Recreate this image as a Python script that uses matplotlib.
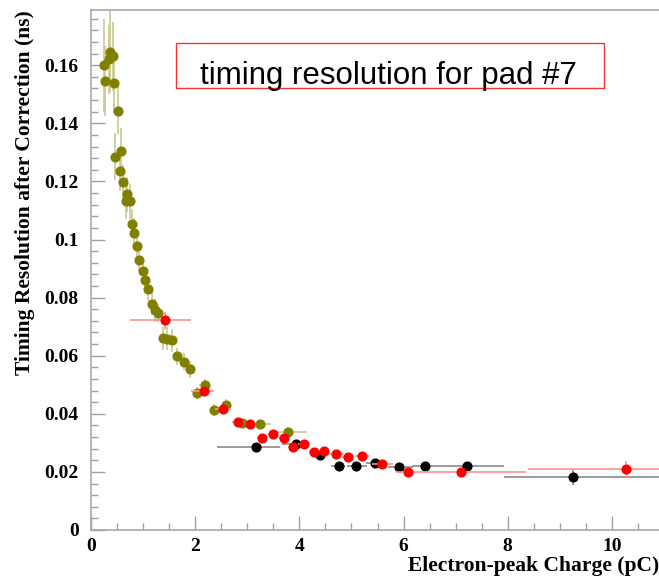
import matplotlib
matplotlib.use("Agg")
import matplotlib.pyplot as plt
from matplotlib.ticker import MultipleLocator
from matplotlib.patches import Rectangle

# Olive series (high-statistics scan)
olive_x = [0.24, 0.27, 0.35, 0.36, 0.42, 0.44, 0.51, 0.47, 0.58, 0.55, 0.62, 0.70, 0.67, 0.75,
           0.78, 0.83, 0.88, 0.93, 0.99, 1.03, 1.10, 1.17, 1.22, 1.29, 1.38, 1.45, 1.55, 1.66,
           1.78, 1.90, 2.03, 2.18, 2.37, 2.60, 2.90, 3.25, 3.78]
olive_y = [0.160, 0.1545, 0.162, 0.1647, 0.163, 0.1538, 0.1444, 0.1285, 0.1303, 0.1237, 0.1198,
           0.1155, 0.1132, 0.1132, 0.1055, 0.1022, 0.0977, 0.0931, 0.0891, 0.0860, 0.0828, 0.0779,
           0.0756, 0.0747, 0.0660, 0.0658, 0.0653, 0.0598, 0.0580, 0.0553, 0.0471, 0.0500, 0.0414,
           0.0431, 0.0368, 0.0364, 0.0338]
olive_yerr = [0.016, 0.012, 0.012, 0.014, 0.012, 0.010, 0.008, 0.008, 0.008, 0.007, 0.006,
              0.006, 0.006, 0.006, 0.005, 0.005, 0.005, 0.004, 0.004, 0.004, 0.004, 0.004,
              0.004, 0.003, 0.004, 0.004, 0.004, 0.003, 0.003, 0.003, 0.002, 0.002, 0.002,
              0.002, 0.0015, 0.0015, 0.0015]
olive_xerr = [0, 0, 0, 0, 0, 0, 0, 0, 0, 0, 0, 0, 0, 0, 0, 0, 0, 0, 0, 0, 0, 0, 0, 0, 0, 0, 0, 0,
              0, 0, 0, 0.1, 0, 0.08, 0, 0.2, 0.36]

# Red series
red_x = [1.42, 2.16, 2.54, 2.82, 3.06, 3.28, 3.49, 3.70, 3.88, 4.08, 4.28, 4.47, 4.71, 4.93,
         5.21, 5.59, 6.08, 7.10, 10.27]
red_y = [0.0722, 0.0477, 0.0416, 0.0373, 0.0364, 0.0316, 0.0330, 0.0315, 0.0285, 0.0295, 0.0268,
         0.0273, 0.0261, 0.0253, 0.0255, 0.0228, 0.0199, 0.0201, 0.0210]
red_yerr = [0.003, 0.0015, 0.0012, 0.001, 0.001, 0.001, 0.001, 0.001, 0.001, 0.001, 0.001,
            0.001, 0.001, 0.001, 0.001, 0.001, 0.001, 0.001, 0.0026]
red_xlo = [0.68, 0.24, 0.15, 0.12, 0.10, 0.10, 0.10, 0.10, 0.10, 0.10, 0.10, 0.10, 0.12, 0.12,
           0.15, 0.20, 0.23, 0.65, 1.89]
red_xhi = [0.50, 0.21, 0.15, 0.12, 0.10, 0.10, 0.10, 0.10, 0.10, 0.10, 0.10, 0.10, 0.12, 0.12,
           0.15, 0.20, 0.38, 1.26, 1.00]

# Black series
black_x = [3.17, 3.94, 4.39, 4.76, 5.08, 5.46, 5.92, 6.42, 7.22, 9.26]
black_y = [0.0285, 0.0297, 0.0259, 0.0222, 0.0222, 0.0232, 0.0216, 0.0221, 0.0221, 0.0182]
black_yerr = [0.0015, 0.0012, 0.001, 0.001, 0.001, 0.001, 0.001, 0.001, 0.001, 0.0027]
black_xlo = [0.75, 0.28, 0.10, 0.16, 0.16, 0.19, 0.21, 0.25, 0.50, 1.33]
black_xhi = [0.46, 0.10, 0.10, 0.12, 0.22, 0.23, 0.27, 0.30, 0.71, 1.70]

x_ticks = [0, 2, 4, 6, 8, 10]
x_ticklabels = ['0', '2', '4', '6', '8', '10']
y_ticks = [0, 0.02, 0.04, 0.06, 0.08, 0.1, 0.12, 0.14, 0.16]
y_ticklabels = ['0', '0.02', '0.04', '0.06', '0.08', '0.1', '0.12', '0.14', '0.16']

fig = plt.figure(figsize=(6.59, 5.76), dpi=100)
ax = fig.add_axes([91/659, 1 - 530/576, 1 - 91/659, 520/576])
ax.set_xlim(0, (659 - 92) / 52.0)
ax.set_ylim(0, 520 / 2905.0)

ms = 6.3
ax.errorbar(olive_x, olive_y, yerr=olive_yerr, xerr=olive_xerr, fmt='o', color='#808000',
            ecolor='#c9c98f', elinewidth=1.2, ms=ms, capsize=0, zorder=3)
ax.errorbar(black_x, black_y, yerr=black_yerr, xerr=[black_xlo, black_xhi], fmt='o', color='black',
            ecolor='#8a8a8a', elinewidth=1.2, ms=ms, capsize=0, zorder=4)
ax.errorbar(red_x, red_y, yerr=red_yerr, xerr=[red_xlo, red_xhi], fmt='o', color='#ff0000',
            ecolor='#ff9090', elinewidth=1.2, ms=ms, capsize=0, zorder=5)

ax.spines['right'].set_visible(False)
for s in ['left', 'bottom', 'top']:
    ax.spines[s].set_color('#a8a8a8')
    ax.spines[s].set_linewidth(1.2)

ax.xaxis.set_minor_locator(MultipleLocator(0.5))
ax.yaxis.set_minor_locator(MultipleLocator(0.004))
ax.tick_params(which='both', direction='in', color='#a0a0a0', top=False, right=False)
ax.tick_params(which='major', length=10, width=1)
ax.tick_params(which='minor', length=5, width=1)

ax.set_xticks(x_ticks)
ax.set_xticklabels(x_ticklabels)
ax.set_yticks(y_ticks)
ax.set_yticklabels(y_ticklabels)
for lab in ax.get_xticklabels() + ax.get_yticklabels():
    lab.set_fontfamily('Liberation Serif')
    lab.set_fontweight('bold')
    lab.set_fontsize(14)
ax.tick_params(axis='y', pad=9)
ax.tick_params(axis='x', pad=6)

fig.text(25/659, 1 - 10/576, 'Timing Resolution after Correction (ns)', rotation=90,
         ha='center', va='top', fontfamily='Liberation Serif', fontweight='bold', fontsize=15.5)
fig.text(659/659, 1 - 566/576, 'Electron-peak Charge (pC)', ha='right', va='center',
         fontfamily='Liberation Serif', fontweight='bold', fontsize=15.5)

# Title box
fig.patches.append(Rectangle((176/659, 1 - 88/576), (604 - 176)/659, (88 - 43)/576,
                             transform=fig.transFigure, fill=False, edgecolor='#ff3030', lw=1.0))
fig.text(388/659, 1 - 84/576, 'timing resolution for pad #7', ha='center', va='baseline',
         fontfamily='Liberation Sans', fontsize=22.5)

fig.savefig('out.png', dpi=100)
